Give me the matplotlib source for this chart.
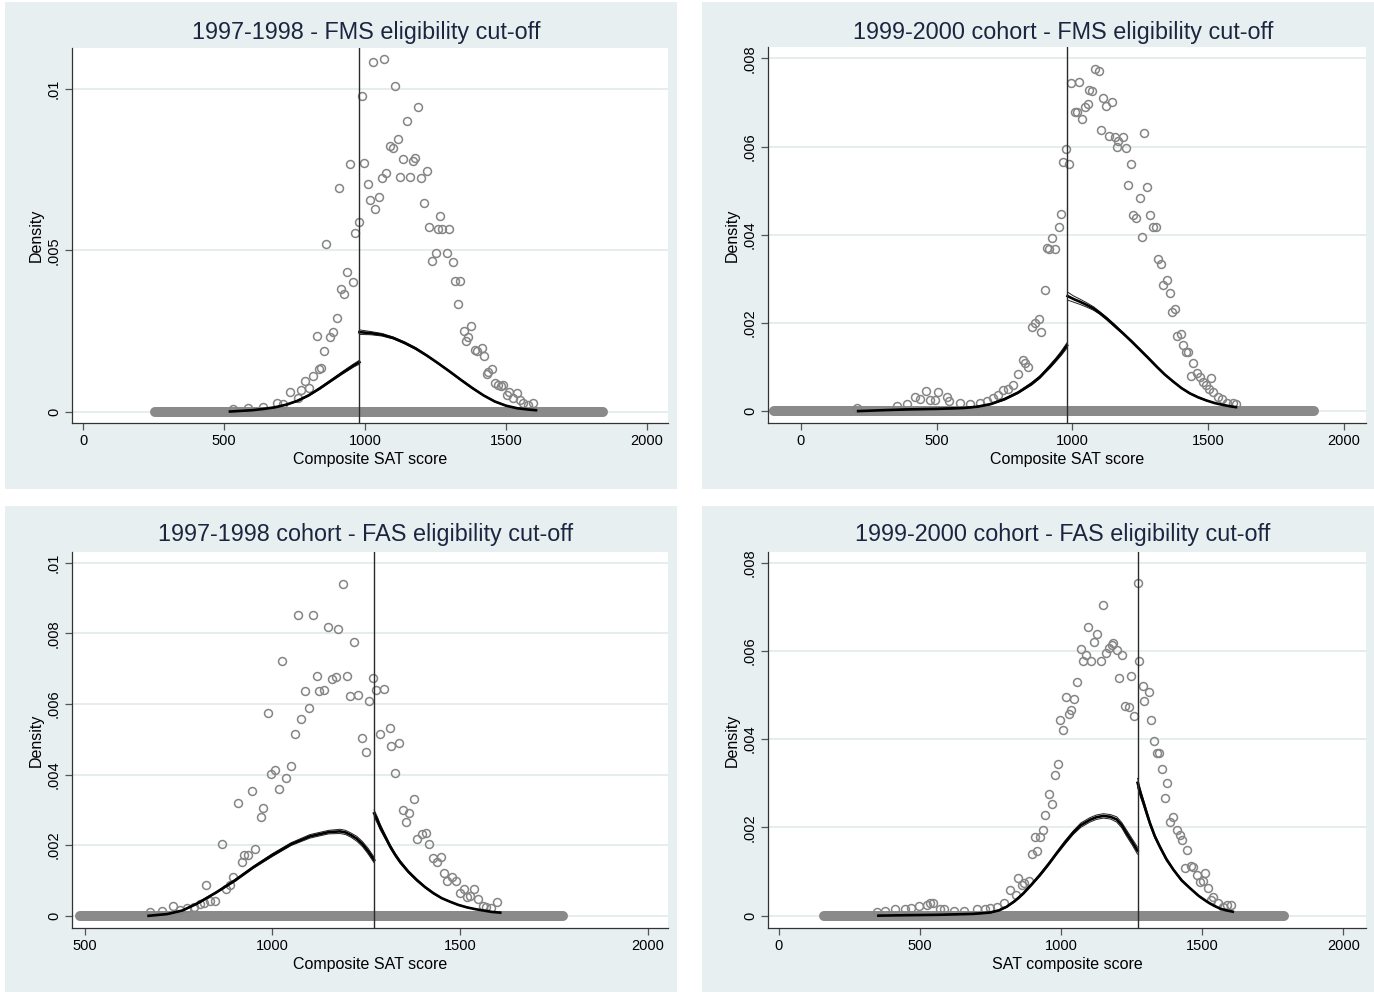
import numpy as np
import matplotlib.pyplot as plt
from matplotlib.patches import Rectangle

# --------- data ---------
# panel 1: 1997-1998 FMS
p1_pts_x = [533, 586, 637, 687, 710, 734, 764, 773, 788, 800, 817, 829, 835, 843, 856, 863, 874, 885,
            900, 907, 915, 926, 937, 947, 956, 965, 979,
            988, 998, 1010, 1018, 1027, 1035, 1050, 1059, 1067, 1075, 1089, 1098, 1106, 1116, 1124, 1136,
            1148, 1160, 1169, 1178, 1187, 1200, 1208, 1218, 1226, 1239, 1250, 1258, 1266, 1272, 1289, 1297,
            1312, 1319, 1329, 1337, 1349, 1358, 1366, 1377, 1388, 1398, 1413, 1422, 1431, 1437, 1449, 1461,
            1470, 1481, 1490, 1502, 1512, 1524, 1540, 1550, 1561, 1576, 1597]
p1_pts_y = [.00007, .0001, .00015, .00025, .00022, .00059, .00041, .00067, .00096, .00072, .0011, .00234,
            .00132, .00134, .00187, .00519, .00232, .00245, .00291, .00693, .00381, .00363, .00431, .00766,
            .00403, .00554, .00588,
            .00979, .0077, .00704, .00655, .01084, .00628, .00664, .00724, .01092, .00739, .00824, .00816,
            .0101, .00844, .00727, .00783, .00902, .00727, .00777, .00785, .00944, .00724, .00646, .00747,
            .00573, .00468, .00492, .00565, .00605, .00565, .00492, .00565, .00465, .00406, .00333, .00404,
            .0025, .00219, .0023, .00264, .00191, .00189, .00197, .00171, .00117, .00123, .00133, .00089,
            .00082, .0008, .00082, .00051, .00061, .00041, .00056, .00036, .00025, .0002, .00027]
p1_left_x = [521, 560, 600, 640, 680, 720, 760, 800, 840, 880, 920, 960, 980]
p1_left_y = [0, .00002, .00004, .00008, .00013, .00021, .00033, .0005, .00072, .00096, .0012, .00143, .00153]
p1_left_se = [0, 0, 0, 0, .00001, .00001, .00002, .00002, .00003, .00003, .00004, .00005, .00006]
p1_right_x = [980, 1020, 1060, 1100, 1140, 1180, 1220, 1260, 1300, 1340, 1380, 1420, 1460, 1500, 1540,
              1580, 1606]
p1_right_y = [.00246, .00243, .00238, .00228, .00213, .00195, .00173, .00149, .00124, .00098, .00073,
              .0005, .00031, .00018, .0001, .00006, .00004]
p1_right_se = [.00007, .00005, .00004, .00003, .00003, .00003, .00002, .00002, .00002, .00002, .00002,
               .00001, .00001, .00001, 0, 0, 0]

# panel 2: 1999-2000 FMS
p2_pts_x = [205, 353, 389, 420, 439, 461, 475, 494, 504, 537, 547, 586, 623, 659, 684, 709, 727, 745,
            764, 782, 801, 817, 826, 835, 851, 862, 878, 884, 900, 905, 915, 936, 925, 949, 958, 966, 976,
            986, 995, 1023, 1008, 1015, 1036, 1046, 1056, 1062, 1073, 1083, 1096, 1113, 1122, 1147, 1105,
            1133, 1157, 1169, 1185, 1163, 1196, 1214, 1265, 1206, 1276, 1247, 1222, 1233, 1285, 1298, 1307,
            1257, 1316, 1325, 1350, 1332, 1359, 1377, 1365, 1384, 1398, 1408, 1418, 1427, 1445, 1435, 1460,
            1470, 1482, 1509, 1492, 1504, 1519, 1537, 1549, 1568, 1590, 1601]
p2_pts_y = [.00006, .00012, .00016, .00033, .00027, .00046, .00025, .00025, .00043, .00031, .00024, .00018,
            .00016, .00019, .00024, .00029, .00037, .00048, .00049, .00059, .00084, .00116, .0011, .00099,
            .00191, .002, .0021, .0018, .00275, .0037, .00367, .00367, .00393, .00418, .00448, .00566,
            .00595, .00561, .00744, .00746, .00679, .00679, .00662, .0069, .00696, .00728, .00727, .00777,
            .00772, .00711, .00693, .00701, .00637, .00625, .00622, .00612, .00621, .00599, .00597, .0056,
            .00631, .00512, .00509, .00484, .00446, .00437, .00446, .00418, .00418, .00396, .00344, .00333,
            .00297, .00287, .00268, .00232, .00224, .0017, .00175, .0015, .00135, .00135, .0011, .0008,
            .00086, .00078, .00067, .00076, .00059, .00049, .00044, .00033, .00027, .00019, .00019, .00016]
p2_left_x = [211, 300, 400, 500, 550, 600, 650, 700, 750, 800, 850, 880, 900, 920, 940, 960, 980]
p2_left_y = [0, .00002, .00004, .00005, .00006, .00007, .0001, .00016, .00027, .00042, .00062, .00077,
             .0009, .00103, .00117, .00132, .00149]
p2_left_se = [0, 0, .00001, .00001, .00001, .00001, .00001, .00001, .00002, .00002, .00003, .00003,
              .00003, .00004, .00004, .00005, .00006]
p2_right_x = [982, 1005, 1028, 1052, 1077, 1100, 1126, 1155, 1187, 1218, 1249, 1280, 1310, 1340, 1371,
              1402, 1433, 1464, 1494, 1525, 1555, 1580, 1602]
p2_right_y = [.00261, .00254, .00248, .00241, .00233, .00223, .0021, .00194, .00176, .00158, .00139, .0012,
              .00101, .00083, .00067, .00052, .0004, .00031, .00024, .00018, .00014, .00011, .00009]
p2_right_se = [.00009, .00007, .00006, .00005, .00004, .00003, .00003, .00003, .00002, .00002, .00002,
               .00002, .00002, .00001, .00001, .00001, .00001, .00001, .00001, 0, 0, 0, 0]

# panel 3: 1997-1998 FAS
p3_pts_x = [674, 705, 735, 754, 772, 790, 807, 818, 834, 847, 823, 865, 877, 887, 896, 907, 918, 925, 934,
            954, 945, 969, 976, 987, 996, 1006, 1018, 1025, 1036, 1049, 1059, 1076, 1087, 1098, 1118, 1123,
            1138, 1069, 1107, 1148, 1176, 1187, 1159, 1170, 1198, 1207, 1227, 1218, 1238, 1249, 1258, 1267,
            1276, 1297, 1287, 1312, 1317, 1338, 1326, 1376, 1347, 1365, 1357, 1386, 1398, 1409, 1417, 1427,
            1438, 1449, 1458, 1466, 1478, 1489, 1500, 1511, 1518, 1527, 1537, 1549, 1560, 1569, 1582, 1599]
p3_pts_y = [.00012, .00015, .00029, .00016, .00021, .00026, .00033, .00037, .00043, .00043, .00087, .00204,
            .00076, .00087, .00109, .00318, .00153, .00172, .00172, .00188, .00354, .0028, .00306, .00574,
            .00401, .00414, .00358, .0072, .00391, .00423, .00515, .00558, .00636, .00589, .00679, .00636,
            .00639, .00852, .00852, .00817, .00813, .00938, .0067, .00675, .00679, .00622, .00625, .00775,
            .00503, .00463, .00609, .00672,
            .00639, .00642, .00515, .00533, .00481, .00488, .00405, .00332, .00299, .0029, .00266, .00218,
            .00231, .00235, .00203, .00164, .00151, .00167, .0012, .00099, .00111, .00099, .00065, .00076,
            .00054, .00056, .00076, .00047, .00028, .00024, .00021, .0004]
p3_left_x = [670, 720, 760, 800, 850, 900, 950, 1000, 1050, 1100, 1150, 1180, 1195, 1210, 1225, 1240, 1255,
             1271]
p3_left_y = [0, .00005, .00015, .00035, .00066, .001, .00138, .00172, .00203, .00225, .00237, .00239,
             .00236, .00228, .00218, .00203, .00183, .00158]
p3_left_se = [0, 0, .00001, .00002, .00002, .00003, .00003, .00004, .00004, .00005, .00005, .00006,
              .00006, .00006, .00007, .00007, .00008, .00008]
p3_right_x = [1271, 1280, 1287, 1300, 1314, 1327, 1340, 1362, 1385, 1407, 1429, 1451, 1473, 1495, 1518,
              1540, 1562, 1585, 1607]
p3_right_y = [.0029, .0027, .00252, .00225, .00196, .00173, .00153, .00125, .00101, .00081, .00064, .0005,
              .0004, .00031, .00024, .00019, .00015, .00011, .00009]
p3_right_se = [.0001, .00009, .00008, .00006, .00005, .00004, .00004, .00003, .00003, .00002, .00002,
               .00001, .00001, .00001, .00001, 0, 0, 0, 0]

# panel 4: 1999-2000 FAS
p4_pts_x = [347, 376, 412, 447, 467, 497, 526, 536, 547, 571, 585, 622, 656, 704, 730, 748, 772, 798, 819,
            839, 846, 860, 869, 886, 898, 916, 908, 925, 935, 944, 956, 969, 978, 990, 996, 1008, 1017, 1027,
            1035, 1047, 1058, 1069, 1076, 1087, 1096, 1107, 1118, 1126, 1140, 1150, 1158, 1169, 1179, 1185,
            1197, 1217, 1206, 1228, 1239, 1248, 1257, 1271,
            1277, 1289, 1311, 1295, 1317, 1329, 1339, 1348, 1356, 1376, 1368, 1398, 1386, 1412, 1421, 1429,
            1447, 1439, 1459, 1466, 1483, 1492, 1502, 1510, 1519, 1539, 1530, 1557, 1575, 1589, 1601]
p4_pts_y = [.00009, .0001, .00015, .00016, .00018, .00022, .00024, .00029, .00029, .00016, .00014, .00011,
            .00011, .00014, .00016, .00018, .0002, .00029, .00057, .00047, .00086, .00069, .00073, .00078,
            .0014, .00147, .00178, .00178, .00193, .00227, .00275, .00253, .00319, .00344, .00443, .00421,
            .00495, .00457, .00466, .00491, .0053, .00605, .00578, .00591, .00655, .00577, .0062, .00639,
            .00577, .00705, .00595, .00606, .00614, .00618, .00603, .00591, .00538, .00474, .00473, .00542,
            .00453, .00753,
            .00578, .00521, .00506, .00487, .00443, .00396, .00368, .00368, .00332, .00301, .00267, .00224,
            .00212, .00193, .00182, .00171, .00149, .00107, .00113, .00111, .00092, .00077, .00079, .00097,
            .00063, .00043, .00035, .00029, .0002, .00023, .00024]
p4_left_x = [353, 453, 571, 689, 748, 780, 807, 836, 866, 895, 925, 955, 984, 1013, 1043, 1070, 1102, 1125,
             1150, 1175, 1197, 1215, 1232, 1252, 1271]
p4_left_y = [0, .00001, .00002, .00004, .00007, .00012, .0002, .00033, .0005, .0007, .00092, .00116, .00141,
             .00165, .00188, .00205, .00217, .00223, .00226, .00224, .00218, .00205, .00187, .00167, .00147]
p4_left_se = [0, 0, 0, .00001, .00001, .00001, .00001, .00002, .00002, .00002, .00003, .00003, .00003,
              .00004, .00004, .00005, .00005, .00005, .00005, .00005, .00006, .00006, .00007, .00007, .00008]
p4_right_x = [1271, 1280, 1291, 1303, 1315, 1332, 1350, 1373, 1398, 1427, 1457, 1487, 1516, 1540, 1563,
              1585, 1608]
p4_right_y = [.00301, .0028, .00258, .00233, .00209, .0018, .00156, .00128, .00104, .0008, .00062, .00045,
              .00032, .00023, .00016, .00012, .00009]
p4_right_se = [.0001, .00009, .00007, .00006, .00005, .00004, .00003, .00003, .00002, .00002, .00001,
               .00001, .00001, 0, 0, 0, 0]

titles = ["1997-1998 - FMS eligibility cut-off", "1999-2000 cohort - FMS eligibility cut-off",
          "1997-1998 cohort - FAS eligibility cut-off", "1999-2000 cohort - FAS eligibility cut-off"]
xlabels = ["Composite SAT score", "Composite SAT score", "Composite SAT score", "SAT composite score"]
cutoffs = [980, 980, 1271, 1271]
band_ranges = [(255, 1845), (-100, 1890), (488, 1775), (160, 1790)]
x_ticks = [[0, 500, 1000, 1500, 2000], [0, 500, 1000, 1500, 2000],
           [500, 1000, 1500, 2000], [0, 500, 1000, 1500, 2000]]
y_ticks = [[0, .005, .01], [0, .002, .004, .006, .008],
           [0, .002, .004, .006, .008, .01], [0, .002, .004, .006, .008]]
y_ticklabels = [["0", ".005", ".01"], ["0", ".002", ".004", ".006", ".008"],
                ["0", ".002", ".004", ".006", ".008", ".01"], ["0", ".002", ".004", ".006", ".008"]]
x_lims = [(-39, 2074), (-121, 2081), (466, 2054), (-38, 2080)]
y_lims = [(-0.000356, .01127), (-0.00027, .00826), (-0.000345, .0103), (-0.00028, .00824)]

panels = [
    (p1_pts_x, p1_pts_y, p1_left_x, p1_left_y, p1_left_se, p1_right_x, p1_right_y, p1_right_se),
    (p2_pts_x, p2_pts_y, p2_left_x, p2_left_y, p2_left_se, p2_right_x, p2_right_y, p2_right_se),
    (p3_pts_x, p3_pts_y, p3_left_x, p3_left_y, p3_left_se, p3_right_x, p3_right_y, p3_right_se),
    (p4_pts_x, p4_pts_y, p4_left_x, p4_left_y, p4_left_se, p4_right_x, p4_right_y, p4_right_se),
]

# --------- layout (pixels) ---------
W, H = 1374, 992
outer_boxes = [(5, 2, 677, 489), (702, 2, 1374, 489), (5, 506, 677, 992), (702, 506, 1374, 992)]
plot_boxes = [(72, 48, 668, 423), (768, 47, 1366, 423), (72, 552, 668, 928), (768, 552, 1366, 928)]
title_y = [32, 32, 535, 535]

BG = "#e7eff0"
GRID = "#e4ecee"
PT = "#858585"

plt.rcParams["font.family"] = ["Liberation Sans", "DejaVu Sans"]

fig = plt.figure(figsize=(W / 100, H / 100), dpi=100)
fig.patch.set_facecolor("white")

for i in range(4):
    ox0, oy0, ox1, oy1 = outer_boxes[i]
    fig.add_artist(Rectangle((ox0 / W, 1 - oy1 / H), (ox1 - ox0) / W, (oy1 - oy0) / H,
                             transform=fig.transFigure, facecolor=BG, edgecolor="none", zorder=0))
    x0, y0, x1, y1 = plot_boxes[i]
    ax = fig.add_axes([x0 / W, 1 - y1 / H, (x1 - x0) / W, (y1 - y0) / H])
    ax.set_facecolor("white")

    px, py, lx, ly, lse, rx, ry, rse = panels[i]

    for t in y_ticks[i]:
        ax.axhline(t, color=GRID, lw=1.3, zorder=0)

    # row of empty bins along zero
    b0, b1 = band_ranges[i]
    ax.plot([b0, b1], [0, 0], color="#8a8a8a", lw=7.2, solid_capstyle="round", zorder=2)

    ax.plot(px, py, "o", ms=5.7, mfc="none", mec=PT, mew=1.1, zorder=3)

    for cx, cy, cse in ((lx, ly, lse), (rx, ry, rse)):
        cx = np.array(cx)
        cy = np.array(cy)
        cse = np.array(cse)
        ax.plot(cx, cy + cse, color="#222222", lw=0.7, zorder=4)
        ax.plot(cx, cy - cse, color="#222222", lw=0.7, zorder=4)
        ax.plot(cx, cy, color="black", lw=1.9, zorder=5)

    ax.axvline(cutoffs[i], color="#2a2a2a", lw=1.0, zorder=6)

    ax.set_xlim(*x_lims[i])
    ax.set_ylim(*y_lims[i])
    ax.set_xticks(x_ticks[i])
    ax.set_yticks(y_ticks[i])
    ax.set_yticklabels(y_ticklabels[i])
    ax.tick_params(axis="both", direction="out", length=5, width=0.9, color="#555555",
                   labelsize=10.5, labelcolor="black", pad=3)
    ax.tick_params(axis="y", labelrotation=90)
    for lab in ax.get_yticklabels():
        lab.set_va("center")
    for side in ("top", "right"):
        ax.spines[side].set_visible(False)
    for side in ("left", "bottom"):
        ax.spines[side].set_color("#333333")
        ax.spines[side].set_linewidth(0.9)

    ax.set_xlabel(xlabels[i], fontsize=11.5, labelpad=3)
    ax.set_ylabel("Density", fontsize=11.5, labelpad=2)

    fig.text(((x0 + x1) / 2 - 4) / W, 1 - title_y[i] / H, titles[i], ha="center", va="center",
             fontsize=16.8, color="#1a2540")

fig.savefig("out.png", dpi=100, facecolor="white")
